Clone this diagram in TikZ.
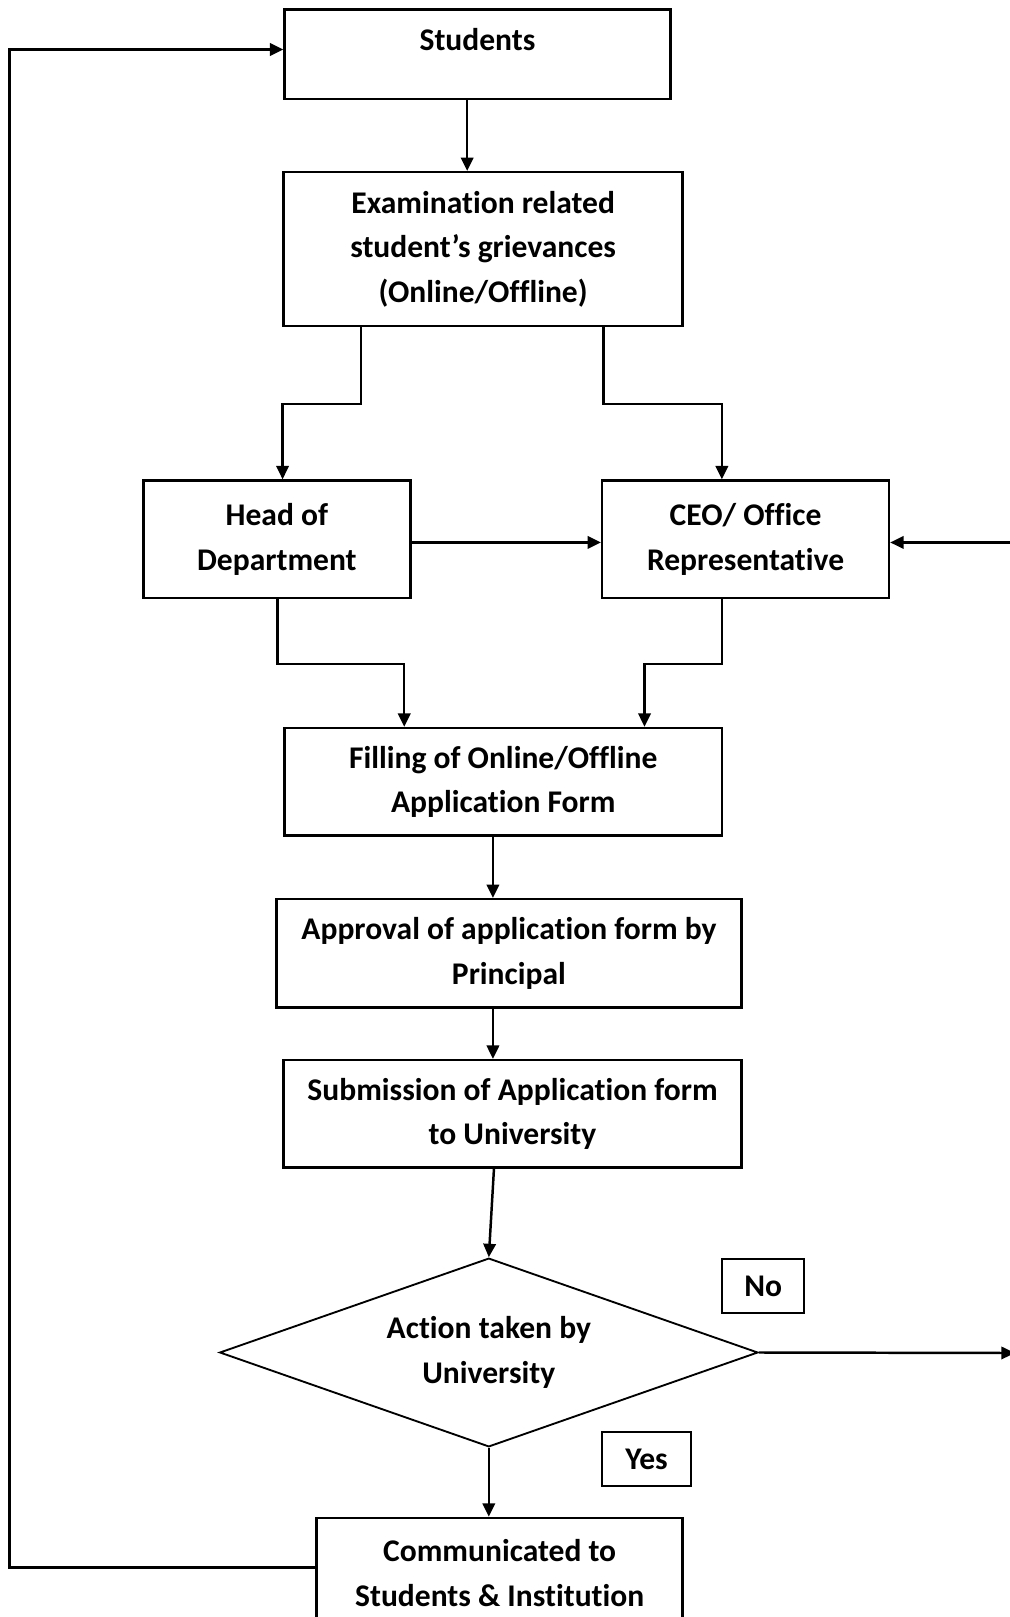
\documentclass[tikz,border=0pt]{standalone}
\usepackage{fontspec}
\setmainfont{Carlito}[Ligatures=NoCommon]
\usetikzlibrary{arrows.meta,shapes.geometric}
\begin{document}
\begin{tikzpicture}[x=0.5pt,y=-0.5pt,
  box/.style={draw,line width=1.2pt,inner sep=0pt,align=center,font=\bfseries\fontsize{15.3}{21.5}\selectfont},
  dia/.style={draw,diamond,aspect=2.85,line width=0.9pt,inner sep=0pt,align=center,font=\bfseries\fontsize{15.3}{21.5}\selectfont},
  txt/.style={inner sep=0pt,align=center,font=\bfseries\fontsize{15.3}{21.5}\selectfont},
  arr/.style={line width=1.2pt,-{Triangle[length=6.5pt,width=6pt]}},
  ln/.style={line width=1.2pt}]
\useasboundingbox (0,0) rectangle (979,1568);
% nodes
\node[box,minimum width=187pt,minimum height=43.5pt] (stu) at (463,52.5) {};
\node[txt] (stut) at (463,38) {Students};
\node[box,minimum width=193.5pt,minimum height=74.5pt] (exam) at (468.5,241.5) {Examination related\\student’s grievances\\(Online/Offline)};
\node[box,minimum width=129.5pt,minimum height=57pt] (hod) at (268.5,523) {Head of\\Department};
\node[box,minimum width=139pt,minimum height=57pt] (ceo) at (723,523) {CEO/ Office\\Representative};
\node[box,minimum width=212pt,minimum height=52pt] (fill) at (488,758) {Filling of Online/Offline\\Application Form};
\node[box,minimum width=225.5pt,minimum height=52.5pt] (appr) at (493.5,924.5) {Approval of application form by\\Principal};
\node[box,minimum width=222pt,minimum height=52pt] (subm) at (497,1080) {Submission of Application form\\to University};
\node[dia,minimum width=261pt,minimum height=91.5pt] (act) at (474,1311.5) {Action taken by\\University};
\node[box,line width=0.9pt,minimum width=40pt,minimum height=26pt] (no) at (740,1247) {No};
\node[box,line width=0.9pt,minimum width=43pt,minimum height=26pt] (yes) at (627,1415) {Yes};
\node[box,minimum width=177.5pt,minimum height=53.5pt] (comm) at (484.5,1525.5) {Communicated to\\Students \& Institution};
\coordinate (rin) at (979,526);
\coordinate (rout) at (984,1312);
% connectors
\draw[arr] (stu.south -| 453,0) -- (exam.north -| 453,0);
\draw[arr] (exam.south -| 350,0) |- (274,392) -- (hod.north -| 274,0);
\draw[arr] (exam.south -| 585,0) |- (700,392) -- (ceo.north -| 700,0);
\draw[arr] (hod.east |- 0,526) -- (ceo.west |- 0,526);
\draw[arr] (rin) -- (ceo.east |- rin);
\draw[arr] (hod.south -| 269,0) |- (392,644) -- (fill.north -| 392,0);
\draw[arr] (ceo.south -| 700,0) |- (625,644) -- (fill.north -| 625,0);
\draw[arr] (fill.south -| 478,0) -- (appr.north -| 478,0);
\draw[arr] (appr.south -| 478,0) -- (subm.north -| 478,0);
\draw[arr] (subm.south -| 479,0) -- (act.north);
\draw[arr] (act.east) -- (rout);
\draw[arr] (act.south) -- (comm.north -| act.south);
\draw[arr] (comm.west |- 0,1520) -| (9,48) -- (stu.west |- 0,48);
\end{tikzpicture}
\end{document}
